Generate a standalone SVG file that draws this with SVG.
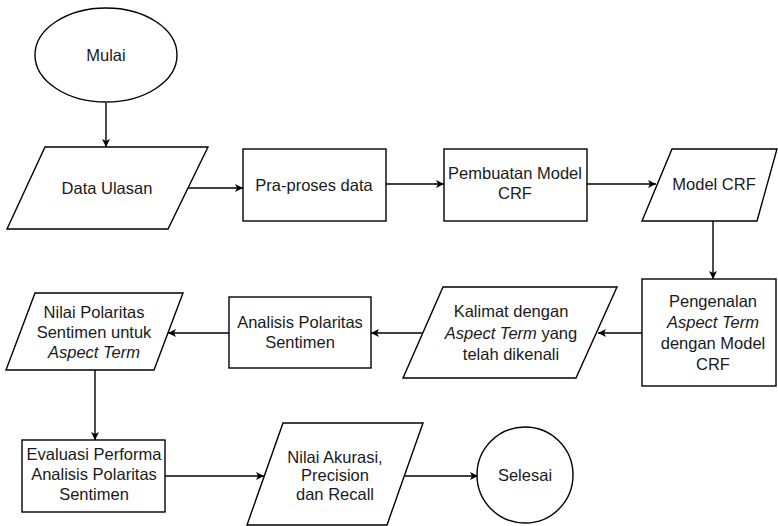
<svg xmlns="http://www.w3.org/2000/svg" width="778" height="526" viewBox="0 0 778 526">
<defs>
<marker id="arr" markerWidth="10" markerHeight="10" refX="9" refY="5" orient="auto" markerUnits="userSpaceOnUse">
<path d="M1,1 L9,5 L1,9 L3,5 Z" fill="#000"/>
</marker>
<style>
.s{fill:#fff;stroke:#000;stroke-width:1.4}
.c{fill:none;stroke:#000;stroke-width:1.4;marker-end:url(#arr)}
text{font-family:"Liberation Sans",Arial,sans-serif;font-size:16.5px;fill:#1a1a1a;text-anchor:middle}
.i{font-style:italic}
</style>
</defs>
<rect width="778" height="526" fill="#fff"/>
<g id="connectors">
<path class="c" d="M106,103 L106,147"/>
<path class="c" d="M188,188 L243,188"/>
<path class="c" d="M386,184 L444,184"/>
<path class="c" d="M587,184 L656,184"/>
<path class="c" d="M713,221 L713,279"/>
<path class="c" d="M642,333 L598,333"/>
<path class="c" d="M423,333 L371,333"/>
<path class="c" d="M229,333 L168,333"/>
<path class="c" d="M95,370 L95,440"/>
<path class="c" d="M165,476 L264,476"/>
<path class="c" d="M405,476 L478,476"/>
</g>
<g id="mulai">
<ellipse class="s" cx="106" cy="55" rx="71" ry="47"/>
<text x="106" y="61">Mulai</text>
</g>
<g id="data-ulasan">
<polygon class="s" points="45,147 208,147 168,229 7,229"/>
<text x="107" y="194">Data Ulasan</text>
</g>
<g id="praproses">
<rect class="s" x="243" y="149" width="143" height="72"/>
<text x="314" y="191">Pra-proses data</text>
</g>
<g id="pembuatan">
<rect class="s" x="444" y="149" width="143" height="72"/>
<text x="515" y="179">Pembuatan Model</text>
<text x="515" y="199">CRF</text>
</g>
<g id="model-crf">
<polygon class="s" points="672,149 777,149 757,221 642,221"/>
<text x="714" y="190">Model CRF</text>
</g>
<g id="pengenalan">
<rect class="s" x="642" y="279" width="134" height="107"/>
<text x="713" y="307">Pengenalan</text>
<text x="713" y="328" class="i">Aspect Term</text>
<text x="713" y="349">dengan Model</text>
<text x="713" y="370">CRF</text>
</g>
<g id="kalimat">
<polygon class="s" points="443,287 617,287 576,378 403,378"/>
<text x="511" y="317">Kalimat dengan</text>
<text x="511" y="339"><tspan class="i">Aspect Term</tspan> yang</text>
<text x="511" y="360">telah dikenali</text>
</g>
<g id="analisis">
<rect class="s" x="229" y="297" width="142" height="71"/>
<text x="300" y="328">Analisis Polaritas</text>
<text x="300" y="348">Sentimen</text>
</g>
<g id="nilai-polaritas">
<polygon class="s" points="35,293 183,293 154,370 6,370"/>
<text x="94" y="318">Nilai Polaritas</text>
<text x="94" y="338">Sentimen untuk</text>
<text x="94" y="358" class="i">Aspect Term</text>
</g>
<g id="evaluasi">
<rect class="s" x="22" y="440" width="143" height="72"/>
<text x="94" y="460">Evaluasi Performa</text>
<text x="94" y="480">Analisis Polaritas</text>
<text x="94" y="500">Sentimen</text>
</g>
<g id="nilai-akurasi">
<polygon class="s" points="283,423 423,423 387,525 247,525"/>
<text x="335" y="463">Nilai Akurasi,</text>
<text x="335" y="481">Precision</text>
<text x="335" y="500">dan Recall</text>
</g>
<g id="selesai">
<circle class="s" cx="525" cy="475" r="48"/>
<text x="525" y="481">Selesai</text>
</g>
</svg>
